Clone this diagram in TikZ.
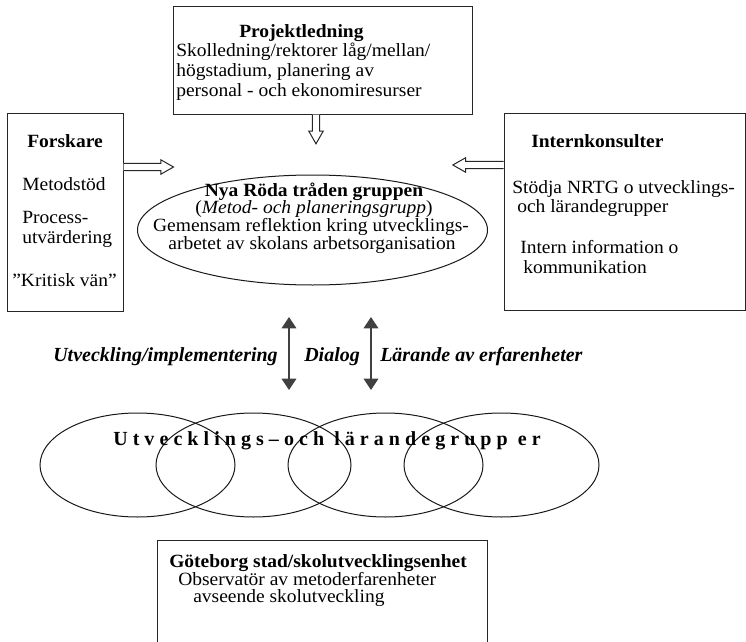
\documentclass[tikz,border=0pt]{standalone}
\usepackage{fontspec}
\setmainfont{Liberation Serif}[FakeStretch=1.045]
\newfontfamily\labelfont{Liberation Serif}
\usetikzlibrary{shapes.geometric,arrows.meta,fit}

% set each character of a word with extra space after it
\makeatletter
\newcommand\spreadword[1]{\@tfor\spr@ch:=#1\do{\spr@ch\kern3.8pt}}
\makeatother

\tikzset{
  box/.style={draw=black!85, line width=0.75pt, inner sep=0pt, rectangle},
  oval/.style={draw=black!90, line width=0.75pt, ellipse, inner sep=0pt},
  txt/.style={inner sep=0pt, anchor=base west, font=\fontsize{14}{16}\selectfont},
  ttl/.style={txt, font=\fontsize{14}{16}\selectfont\bfseries},
  ctxt/.style={txt, anchor=base},
  midlbl/.style={inner sep=0pt, anchor=base west,
    font=\labelfont\fontsize{15}{18}\selectfont\bfseries\itshape},
  dbl/.style={line width=0.9pt, draw=black!75,
    {Triangle[width=11pt,length=8.5pt]}-{Triangle[width=11pt,length=8.5pt]}},
  pics/hollowarrow/.style={code={
    \draw[line width=0.75pt, draw=black!85, fill=white, line join=miter]
      (0pt,-2.7pt) -- (#1-9.5pt,-2.7pt) -- (#1-9.5pt,-5.4pt) -- (#1,0pt)
      -- (#1-9.5pt,5.4pt) -- (#1-9.5pt,2.7pt) -- (0pt,2.7pt);
  }},
}

\begin{document}
\begin{tikzpicture}[x=0.75pt,y=-0.75pt]
\useasboundingbox (0,0) rectangle (746,642);
\clip (0,0) rectangle (746,642);

% boxes
\node[box, fit={(173,7) (472,114)}] (proj) {};
\node[box, fit={(7,113) (123,311)}] (forsk) {};
\node[box, fit={(504,113) (745.5,310)}] (intk) {};
\node[box, fit={(157,540) (487,680)}] (gbg) {};

% central group
\node[oval, minimum width=262.5pt, minimum height=82.5pt] (nrtg) at (312.5,230) {};

% development and learning groups
\node[oval, minimum width=146.25pt, minimum height=78pt] (g1) at (137.5,465) {};
\node[oval, minimum width=146.25pt, minimum height=78pt] (g2) at (253.5,465) {};
\node[oval, minimum width=146.25pt, minimum height=78pt] (g3) at (385.5,465) {};
\node[oval, minimum width=146.25pt, minimum height=78pt] (g4) at (501.5,465) {};

% Projektledning
\node[ttl] (projT) at (239,38) {Projektledning};
\node[txt] (proj1) at (176,57) {Skolledning/rektorer låg/mellan/};
\node[txt] (proj2) at (176,77) {högstadium, planering av};
\node[txt] (proj3) at (176,97) {personal - och ekonomiresurser};

% Forskare
\node[ttl] (forskT) at (27,147) {Forskare};
\node[txt] (forsk1) at (22,190) {Metodstöd};
\node[txt] (forsk2) at (22,223) {Process-};
\node[txt] (forsk3) at (22,243) {utvärdering};
\node[txt] (forsk4) at (12,286) {”Kritisk vän”};

% Internkonsulter
\node[ttl] (intkT) at (531,147) {Internkonsulter};
\node[txt] (intk1) at (512,193) {Stödja NRTG o utvecklings-};
\node[txt] (intk2) at (517,212) {och lärandegrupper};
\node[txt] (intk3) at (520,253) {Intern information o};
\node[txt] (intk4) at (523,273) {kommunikation};

% Nya Röda tråden gruppen
\node[ctxt, font=\fontsize{14}{16}\selectfont\bfseries] (nrtgT) at (314,196) {Nya Röda tråden gruppen};
\node[ctxt] (nrtg1) at (314,213) {(\textit{Metod- och planeringsgrupp})};
\node[ctxt] (nrtg2) at (311,231) {Gemensam reflektion kring utvecklings-};
\node[ctxt] (nrtg3) at (312,249) {arbetet av skolans arbetsorganisation};

% Göteborg stad
\node[ttl] (gbgT) at (169,567) {Göteborg stad/skolutvecklingsenhet};
\node[txt] (gbg1) at (178,585) {Observatör av metoderfarenheter};
\node[txt] (gbg2) at (193,602) {avseende skolutveckling};

% groups label
\node[inner sep=0pt, anchor=base west, font=\labelfont\fontsize{15}{18}\selectfont\bfseries]
  (grpT) at (113,445) {\spreadword{Utvecklings–och} \spreadword{lärandegrupp} \spreadword{er}};

% hollow arrows towards the central group
\coordinate (pArrow) at (proj.south -| 316,0);
\coordinate (fArrow) at (forsk.east |- 0,167);
\coordinate (iArrow) at (intk.west |- 0,165);
\pic[rotate=-90] at (pArrow) {hollowarrow=22pt};
\pic at (fArrow) {hollowarrow=37.5pt};
\pic[rotate=180] at (iArrow) {hollowarrow=38pt};

% two-way arrows
\coordinate (d1a) at (289,317);
\coordinate (d1b) at (289,390);
\coordinate (d2a) at (371,317);
\coordinate (d2b) at (371,390);
\draw[dbl] (d1a) -- (d1b);
\draw[dbl] (d2a) -- (d2b);

\node[midlbl] (lblA) at (53,361) {Utveckling/implementering};
\node[midlbl] (lblB) at (304,361) {Dialog};
\node[midlbl] (lblC) at (380,361) {Lärande av erfarenheter};
\end{tikzpicture}
\end{document}
